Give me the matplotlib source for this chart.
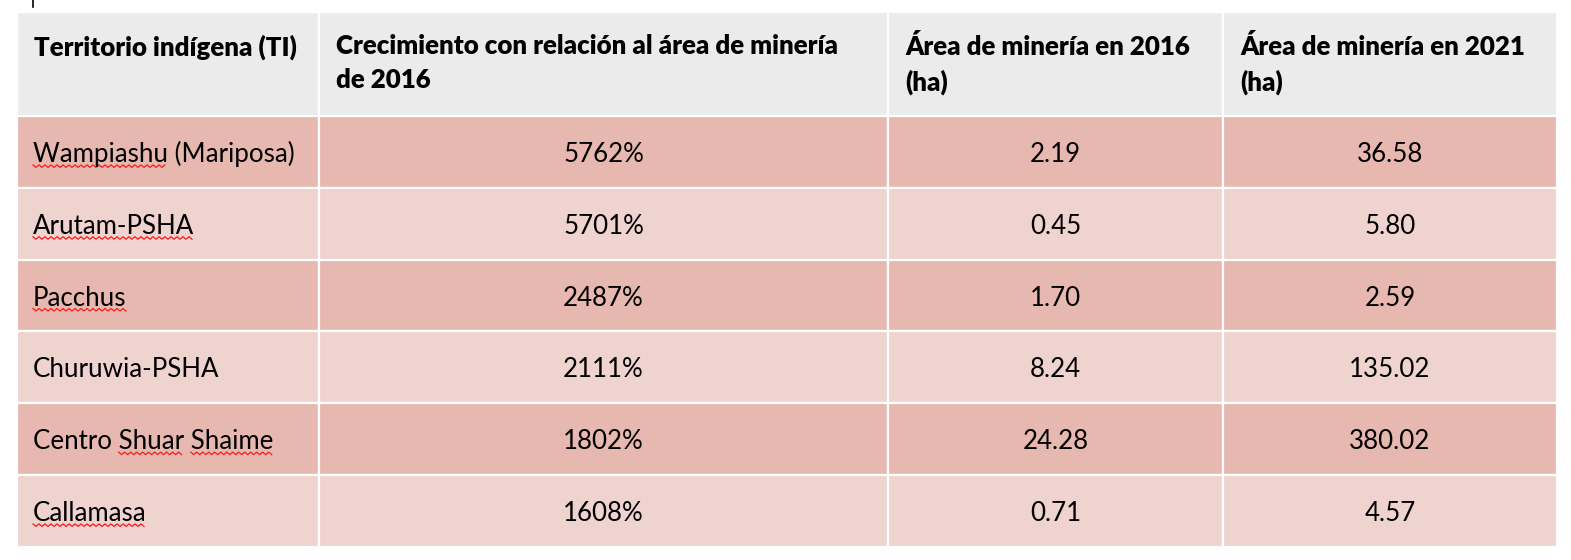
import matplotlib.pyplot as plt
import numpy as np

# Table data
headers = ['Territorio indígena (TI)',
           'Crecimiento con relación al área de minería\nde 2016',
           'Área de minería en 2016\n(ha)',
           'Área de minería en 2021\n(ha)']
territories = ['Wampiashu (Mariposa)', 'Arutam-PSHA', 'Pacchus',
               'Churuwia-PSHA', 'Centro Shuar Shaime', 'Callamasa']
growth = ['5762%', '5701%', '2487%', '2111%', '1802%', '1608%']
area_2016 = ['2.19', '0.45', '1.70', '8.24', '24.28', '0.71']
area_2021 = ['36.58', '5.80', '2.59', '135.02', '380.02', '4.57']
# words flagged by the spell checker (red squiggle)
flagged = [['Wampiashu'], ['Arutam-PSHA'], ['Pacchus'], [], ['Shuar', 'Shaime'], ['Callamasa']]

# layout in pixels
W, H = 1571, 560
col_edges = [17, 319, 888, 1223, 1557]
header_top, header_bot = 12, 116
row_h = 71.8
head_color = '#ebebeb'
dark = '#e6b8b0'
light = '#efd3cf'
font = 'Lato'
fs = 18.6

fig = plt.figure(figsize=(W / 100, H / 100), dpi=100)
ax = fig.add_axes([0, 0, 1, 1])
ax.set_xlim(0, W)
ax.set_ylim(H, 0)
ax.axis('off')

def cell(x0, x1, y0, y1, color):
    ax.add_patch(plt.Rectangle((x0, y0), x1 - x0, y1 - y0, facecolor=color,
                               edgecolor='white', linewidth=1.6))

# header
for i, h in enumerate(headers):
    cell(col_edges[i], col_edges[i + 1], header_top, header_bot, head_color)
    ax.text(col_edges[i] + 17, 34, h, fontsize=fs, fontweight='heavy', family=font,
            ha='left', va='top', linespacing=1.48, color='black')

# body rows
fig.canvas.draw()
renderer = fig.canvas.get_renderer()
for r in range(len(territories)):
    y0 = header_bot + r * row_h
    y1 = y0 + row_h
    color = dark if r % 2 == 0 else light
    for i in range(4):
        cell(col_edges[i], col_edges[i + 1], y0, y1, color)
    yc = (y0 + y1) / 2
    ax.text(col_edges[0] + 16, yc, territories[r], fontsize=fs, family=font,
            ha='left', va='center_baseline', color='black')
    vals = [growth[r], area_2016[r], area_2021[r]]
    for i, v in enumerate(vals):
        xc = (col_edges[i + 1] + col_edges[i + 2]) / 2
        ax.text(xc, yc, v, fontsize=fs, family=font, ha='center',
                va='center_baseline', color='black')
    # red squiggles under flagged words
    for word in flagged[r]:
        name = territories[r]
        start = name.index(word)
        x_start = col_edges[0] + 16
        if start > 0:
            tmp = ax.text(0, 0, name[:start], fontsize=fs, family=font)
            wpx = tmp.get_window_extent(renderer).width
            tmp.remove()
            x_start += wpx
        tmp = ax.text(0, 0, word, fontsize=fs, family=font)
        ww = tmp.get_window_extent(renderer).width
        tmp.remove()
        xs = np.arange(x_start, x_start + ww, 3.0)
        ys = yc + 13 + np.where(np.arange(len(xs)) % 2 == 0, 0, 2.5)
        ax.plot(xs, ys, color='#ff1a1a', linewidth=0.9)

# text cursor mark at the top left
ax.plot([33, 33], [0, 7], color='black', linewidth=1.2)

fig.savefig('out.png', dpi=100)
